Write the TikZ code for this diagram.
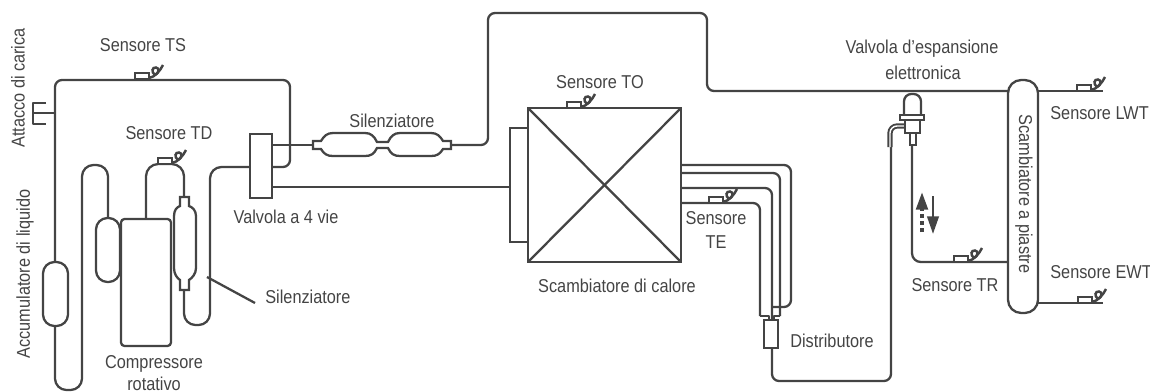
\documentclass[tikz,border=0pt]{standalone}
\usepackage{fontspec}
\setmainfont[FakeStretch=0.875]{Liberation Sans}
\usetikzlibrary{arrows.meta,positioning}
\definecolor{pipegray}{HTML}{444444}
\tikzset{
  pipe/.style={draw=pipegray,line width=1.3pt,rounded corners=4pt,line join=round},
  part/.style={draw=pipegray,line width=1.3pt,fill=white,line join=miter},
  tag/.style={text=pipegray,font=\fontsize{10.6}{12}\selectfont,inner sep=0pt},
  sensorclip/.pic={
    \draw[part,line width=1.2pt] (0,0) rectangle +(14,-6);
    \draw[draw=pipegray,line width=1.4pt] (14,-1) .. controls (20,-2) and (25,-8) .. (28,-14);
    \draw[draw=pipegray,line width=1.4pt] (20,-4) .. controls (16,-7) and (17,-12) .. (21,-11.5) .. controls (25,-11) and (24,-6) .. (20,-4);
  }
}
\begin{document}
\begin{tikzpicture}[x=0.02cm,y=-0.02cm]
\useasboundingbox (0,0) rectangle (1150,392);
% suction side and accumulator
\draw[pipe] (272,167) -- (290,167) -- (290,80) -- (55,80) -- (55,262);
\draw[pipe,rounded corners=6.5pt] (55,326) -- (55,390) -- (82,390) -- (82,165) -- (108,165) -- (108,218);
\draw[part,rounded corners=6.5pt] (43,262) rectangle (68,326);
\draw[pipe] (55,113) -- (33,113);
\draw[pipe,rounded corners=0] (46,103) -- (33,103) -- (33,124) -- (46,124);
% compressor
\draw[part,rounded corners=6.5pt] (96,218) rectangle (120,282);
\draw[part,rounded corners=2pt] (121,219) rectangle (171,346);
\draw[pipe,rounded corners=7pt] (146,219) -- (146,164) -- (184,164) -- (184,197);
\draw[pipe,rounded corners=6.5pt] (184,290) -- (184,325) -- (210,325) -- (210,167) -- (250,167);
% silencer by the compressor
\draw[part] (180,197) -- (189,197) -- (189,206) .. controls (192,207) and (196,210) .. (196,216) -- (196,268) .. controls (196,274) and (192,278) .. (189,280) -- (189,290) -- (180,290) -- (180,280) .. controls (177,278) and (174,274) .. (174,268) -- (174,216) .. controls (174,210) and (177,207) .. (180,206) -- cycle;
\draw[draw=pipegray,line width=1.3pt] (207,277) -- (255,303);
% four way valve
\draw[part,line width=1.6pt] (250,134) rectangle (272,198);
\draw[pipe] (272,145) -- (313,145);
\draw[pipe] (272,187) -- (510,187);
% silencer on the discharge line
\draw[part] (313,141) -- (321,141) .. controls (324,136) and (327,133) .. (333,133) -- (365,133) .. controls (371,133) and (374,136) .. (377,142) -- (388,142) .. controls (391,136) and (394,133) .. (400,133) -- (431,133) .. controls (437,133) and (440,136) .. (443,141) -- (451,141) -- (451,149) -- (443,149) .. controls (440,154) and (437,156) .. (431,156) -- (400,156) .. controls (394,156) and (391,154) .. (388,148) -- (377,148) .. controls (374,154) and (371,156) .. (365,156) -- (333,156) .. controls (327,156) and (324,154) .. (321,149) -- (313,149) -- cycle;
\draw[pipe] (451,145) -- (488,145) -- (488,13) -- (707,13) -- (707,91) -- (1008,91);
% heat exchanger
\draw[part] (510,128) rectangle (528,242);
\draw[part] (528,108) rectangle (681,262);
\draw[draw=pipegray,line width=1.3pt] (528,108) -- (681,262);
\draw[draw=pipegray,line width=1.3pt] (681,108) -- (528,262);
% outlet tubes and distributor
\draw[pipe,rounded corners=4pt] (681,165) -- (791,165) -- (791,307) -- (772,307);
\draw[pipe] (681,173) -- (780,173) -- (780,316);
\draw[pipe,rounded corners=0] (780,316) -- (774,316) -- (774,320);
\draw[pipe] (681,188) -- (772,188) -- (772,320);
\draw[pipe] (681,203) -- (760,203) -- (760,316);
\draw[pipe,rounded corners=0] (760,316) -- (769,316) -- (769,320);
\draw[part] (764,320) rectangle (778,348);
\draw[pipe] (772,348) -- (772,381) -- (891,381) -- (891,147);
% expansion valve
\draw[pipe,line width=3pt] (890,147) -- (890,126) -- (905,126);
\draw[draw=white,line width=0.8pt,rounded corners=4pt] (890,147) -- (890,126) -- (905,126);
\draw[part,rounded corners=4.2pt] (904,115) -- (904,94) -- (921,94) -- (921,115);
\draw[part] (905,120) rectangle (920,133);
\draw[part] (910,133) rectangle (916,145);
\draw[part] (900,115) rectangle (924,120);
\draw[pipe,rounded corners=5pt] (912,145) -- (912,262) -- (1008,262);
\draw[pipe] (1038,91) -- (1103,91);
\draw[pipe] (1038,303) -- (1103,303);
\draw[part,rounded corners=7.5pt] (1008,80) rectangle (1038,313);
% flow arrows
\draw[draw=pipegray,line width=2pt,dash pattern=on 2pt off 2pt,-{Triangle[length=10pt,width=6.5pt]}] (922,232) -- (922,192);
\draw[draw=pipegray,line width=1.5pt,-{Triangle[length=10pt,width=6.5pt]}] (933,196) -- (933,234);
% sensors
\pic at (135,79) {sensorclip};
\pic at (158,164) {sensorclip};
\pic at (567,108) {sensorclip};
\pic at (709,203) {sensorclip};
\pic at (954,262) {sensorclip};
\pic at (1077,91) {sensorclip};
\pic at (1078,303) {sensorclip};
% labels
\node[tag] (sensorTS) at (143,45) {Sensore TS};
\node[tag] (sensorTD) at (169,133) {Sensore TD};
\node[tag] (sensorTO) at (600,82) {Sensore TO};
\node[tag] (sensorTE) at (716,218) {Sensore};
\node[tag] (sensorTEb) at (716,242) {TE};
\node[tag] (sensorTR) at (955,285) {Sensore TR};
\node[tag,anchor=west] (sensorLWT) at (1050,113) {Sensore LWT};
\node[tag,anchor=west] (sensorEWT) at (1050,272) {Sensore EWT};
\node[tag,rotate=90] (chargeport) at (18,88) {Attacco di carica};
\node[tag,rotate=90] (accumulator) at (25,274) {Accumulatore di liquido};
\node[tag] (valve4) at (286,217) {Valvola a 4 vie};
\node[tag] (silencerTop) at (392,121) {Silenziatore};
\node[tag,anchor=west] (silencerLow) at (265,297) {Silenziatore};
\node[tag] (compressorName) at (154,364) {Compressore};
\node[tag] (compressorKind) at (154,384) {rotativo};
\node[tag] (exchanger) at (617,286) {Scambiatore di calore};
\node[tag,anchor=west] (distributor) at (790,341) {Distributore};
\node[tag] (expansionA) at (922,49) {Valvola d’espansione};
\node[tag] (expansionB) at (923,73) {elettronica};
\node[tag,rotate=-90] (plateHX) at (1024,194) {Scambiatore a piastre};
\end{tikzpicture}
\end{document}
